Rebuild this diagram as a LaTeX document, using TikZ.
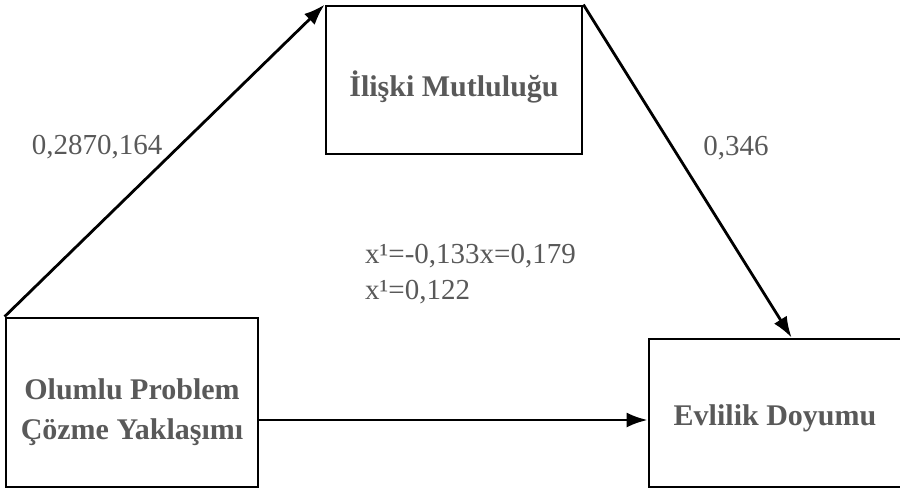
\documentclass[tikz,border=0pt]{standalone}
\usepackage{fontspec}
\setmainfont{Liberation Serif}
\usepackage{tikz}
\usetikzlibrary{shapes,positioning,calc}
\usetikzlibrary{arrows.meta}
\definecolor{yazi}{HTML}{595959}
\tikzstyle{kutu} = [rectangle, draw=black, line width=2.8pt, inner sep=0pt]
\tikzstyle{kutuyazi} = [text=yazi, align=center, font=\fontsize{30}{40}\selectfont\bfseries, inner sep=0pt]
\tikzstyle{katsayi} = [text=yazi, font=\fontsize{29}{36}\selectfont, inner sep=0pt]
\tikzstyle{arrow} = [line width=2.8pt,-{Latex[length=21pt,width=15pt]}]

\begin{document}
\begin{tikzpicture}[x=1pt,y=-1pt]
				\useasboundingbox (0,0) rectangle (900,488);
				\node (iliski) at (454,80) [kutu, minimum width=256pt, minimum height=148pt] {};
				\node (problem) at (132,402.5) [kutu, minimum width=252pt, minimum height=169pt] {};
				\node (doyum) at (790,413) [kutu, minimum width=282pt, minimum height=148pt] {};
				% kutu yazilari
				\node[kutuyazi] at ([yshift=-7pt]iliski.center) {İlişki Mutluluğu};
				\node[kutuyazi] at ([yshift=-10pt]problem.center) {Olumlu Problem\\Çözme Yaklaşımı};
				\node[kutuyazi] at ([xshift=-15pt,yshift=-5pt]doyum.center) {Evlilik Doyumu};
				\draw[arrow] (problem.north west) -- (iliski.north west);
				\draw[arrow] (iliski.north east) -- ($(doyum.north west)+(144,0)$);
				\draw[arrow] ([yshift=-17.5pt]problem.east) -- ([yshift=-17.5pt]problem.east -| doyum.west);
				\node (a) at (97,147) [katsayi] {0,2870,164};
				\node (b) at (736,148) [katsayi] {0,346};
				\node (c) at (365,274) [katsayi, anchor=west, align=left] {x¹=-0,133x=0,179\\x¹=0,122};
\end{tikzpicture}
\end{document}
